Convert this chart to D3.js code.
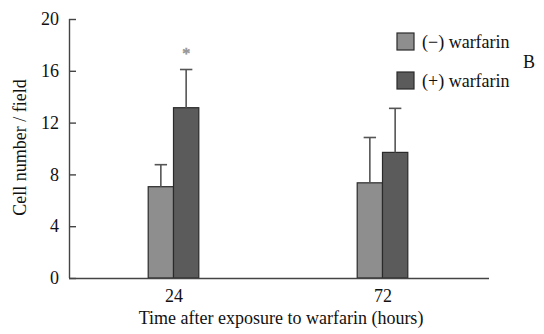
<!DOCTYPE html>
<html>
<head>
<meta charset="utf-8">
<script src="https://cdn.jsdelivr.net/npm/d3@7"></script>
<style>
  html, body { margin: 0; padding: 0; background: #fff; }
  svg { display: block; }
  text { font-family: "Liberation Serif", "Times New Roman", serif; fill: #111; }
</style>
</head>
<body>
<svg id="chart" width="544" height="334"></svg>
<script>
// ---- data ----
const categories = ["24", "72"];
const seriesNames = ["(\u2212) warfarin", "(+) warfarin"];
const minusValues = [7.05, 7.35];
const plusValues = [13.15, 9.7];
const minusErrors = [1.7, 3.5];
const plusErrors = [2.95, 3.4];
const significance = ["*", ""];
const yTicks = [0, 4, 8, 12, 16, 20];
const panelLabel = "B";
const xTitle = "Time after exposure to warfarin (hours)";
const yTitle = "Cell number / field";

const colors = ["#8e8e8e", "#5b5b5b"];
const FONT = "'Liberation Serif', 'Times New Roman', serif";

const svg = d3.select("#chart");
const mLeft = 69, mRight = 489, mTop = 19, mBottom = 278;

const x = d3.scalePoint().domain(categories).range([mLeft, 487]).padding(0.5);
const y = d3.scaleLinear().domain([0, 20]).range([mBottom, mTop]);
const barW = 25.3;

const series = [
  { name: seriesNames[0], values: minusValues, errors: minusErrors, color: colors[0], offset: -1 },
  { name: seriesNames[1], values: plusValues, errors: plusErrors, color: colors[1], offset: 0 }
];

// bars
series.forEach(s => {
  const g = svg.append("g");
  g.selectAll("rect").data(categories).join("rect")
    .attr("x", (d) => x(d) + s.offset * barW)
    .attr("y", (d, i) => y(s.values[i]))
    .attr("width", barW)
    .attr("height", (d, i) => y(0) - y(s.values[i]))
    .attr("fill", s.color)
    .attr("stroke", "#2a2a2a")
    .attr("stroke-width", 1.2);
  g.selectAll("line.err").data(categories).join("line")
    .attr("class", "err")
    .attr("x1", d => x(d) + s.offset * barW + barW / 2)
    .attr("x2", d => x(d) + s.offset * barW + barW / 2)
    .attr("y1", (d, i) => y(s.values[i]))
    .attr("y2", (d, i) => y(s.values[i] + s.errors[i]))
    .attr("stroke", "#555").attr("stroke-width", 1.6);
  g.selectAll("line.cap").data(categories).join("line")
    .attr("class", "cap")
    .attr("x1", d => x(d) + s.offset * barW + barW / 2 - 6.2)
    .attr("x2", d => x(d) + s.offset * barW + barW / 2 + 6.2)
    .attr("y1", (d, i) => y(s.values[i] + s.errors[i]))
    .attr("y2", (d, i) => y(s.values[i] + s.errors[i]))
    .attr("stroke", "#555").attr("stroke-width", 1.6);
});

// significance asterisk
svg.append("g").selectAll("text").data(categories).join("text")
  .attr("x", d => x(d) + barW / 2)
  .attr("y", (d, i) => y(plusValues[i] + plusErrors[i]) - 10.5)
  .attr("text-anchor", "middle")
  .style("font-family", FONT)
  .style("font-size", "16px")
  .style("fill", "#858585")
  .style("stroke", "#999")
  .style("stroke-width", 0.6)
  .text((d, i) => significance[i]);

// y axis
const yAxis = svg.append("g").attr("transform", `translate(${mLeft},0)`)
  .call(d3.axisRight(y).tickValues(yTicks).tickSize(7).tickFormat(d3.format("d")));
yAxis.attr("font-family", null).attr("font-size", null);
yAxis.select(".domain").attr("stroke", "#444").attr("stroke-width", 1.4).attr("d", `M0.5,${mTop}V${mBottom}`);
yAxis.selectAll(".tick line").attr("stroke", "#444").attr("stroke-width", 1.4);
yAxis.selectAll(".tick text").attr("x", -10).attr("text-anchor", "end")
  .style("font-size", "18px").style("font-family", FONT).style("fill", "#111");

// x axis
const xAxis = svg.append("g").attr("transform", `translate(0,${mBottom})`)
  .call(d3.axisBottom(x).tickSize(0).tickPadding(11));
xAxis.attr("font-family", null).attr("font-size", null);
xAxis.select(".domain").attr("stroke", "#444").attr("stroke-width", 1.4).attr("d", `M${mLeft},0.5H${mRight}`);
xAxis.selectAll(".tick text").style("font-size", "18px").style("font-family", FONT).style("fill", "#111");

// titles
svg.append("text").attr("x", (mLeft + mRight) / 2 + 2).attr("y", 324)
  .attr("text-anchor", "middle").style("font-size", "18px").style("font-family", FONT).text(xTitle);
svg.append("text").attr("transform", `translate(26,${(mTop + mBottom) / 2 - 1}) rotate(-90)`)
  .attr("text-anchor", "middle").style("font-size", "18px").style("font-family", FONT).text(yTitle);

// legend
const leg = svg.append("g");
series.forEach((s, i) => {
  const gy = 33 + i * 39;
  leg.append("rect").attr("x", 397).attr("y", gy).attr("width", 17).attr("height", 17)
    .attr("fill", s.color).attr("stroke", "#2a2a2a").attr("stroke-width", 1.2);
  leg.append("text").attr("x", 422).attr("y", gy + 15).style("font-size", "18px")
    .style("font-family", FONT).text(s.name);
});
svg.append("text").attr("x", 523).attr("y", 68).style("font-size", "18px").style("font-family", FONT).text(panelLabel);
</script>
</body>
</html>
